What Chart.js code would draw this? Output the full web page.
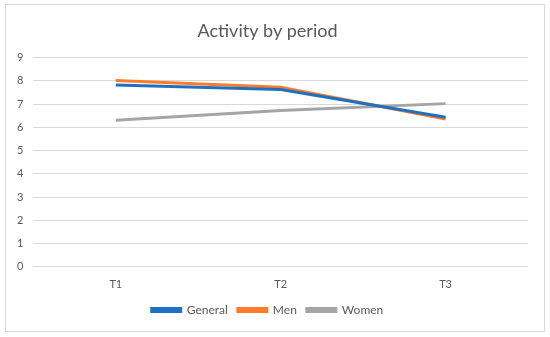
<!DOCTYPE html>
<html>
<head>
<meta charset="utf-8">
<script src="https://cdn.jsdelivr.net/npm/chart.js@4"></script>
<style>
  html, body { margin: 0; padding: 0; background: #fff; }
  #wrap { position: relative; width: 550px; height: 337px; }
  #frame { position: absolute; left: 5px; top: 4px; width: 538px; height: 326px; border: 1px solid #d9d9d9; pointer-events: none; }
  canvas { position: absolute; left: 0; top: 0; }
</style>
</head>
<body>
<div id="wrap">
  <canvas id="c" width="550" height="337"></canvas>
  <div id="frame"></div>
</div>
<script>
const categories = ["T1", "T2", "T3"];
const general = [7.82, 7.63, 6.43];
const men = [8.02, 7.72, 6.36];
const women = [6.30, 6.72, 7.02];
const yTicks = [0, 1, 2, 3, 4, 5, 6, 7, 8, 9];
const chartTitle = "Activity by period";

const FONT = "Lato, 'Open Sans', sans-serif";
const TEXT = "#595959";

new Chart(document.getElementById("c"), {
  type: "line",
  data: {
    labels: categories,
    datasets: [
      { label: "General", data: general, borderColor: "#1f70c1", backgroundColor: "#1f70c1", borderWidth: 3, pointRadius: 0, tension: 0 },
      { label: "Men", data: men, borderColor: "#fb7d2b", backgroundColor: "#fb7d2b", borderWidth: 3, pointRadius: 0, tension: 0 },
      { label: "Women", data: women, borderColor: "#a5a5a5", backgroundColor: "#a5a5a5", borderWidth: 3, pointRadius: 0, tension: 0 }
    ]
  },
  options: {
    responsive: false,
    animation: false,
    layout: { padding: { left: 7, right: 22, top: 16, bottom: 11 } },
    plugins: {
      title: {
        display: true, text: chartTitle, color: TEXT,
        font: { family: FONT, size: 18, weight: "normal" },
        padding: { top: 4, bottom: 16 }
      },
      legend: {
        position: "bottom",
        labels: {
          color: TEXT, font: { family: FONT, size: 12 },
          boxWidth: 29, boxHeight: 3, padding: 10
        }
      },
      tooltip: { enabled: false }
    },
    scales: {
      x: {
        offset: true,
        grid: { display: false },
        border: { display: false },
        ticks: { color: TEXT, font: { family: FONT, size: 11 }, padding: 3 }
      },
      y: {
        min: 0, max: 9,
        afterBuildTicks: (axis) => { axis.ticks = yTicks.map(v => ({ value: v })); },
        grid: { color: "#d9d9d9", lineWidth: 1, drawTicks: false },
        border: { display: false },
        ticks: { color: TEXT, font: { family: FONT, size: 11 }, padding: 10 }
      }
    }
  }
});
</script>
</body>
</html>
